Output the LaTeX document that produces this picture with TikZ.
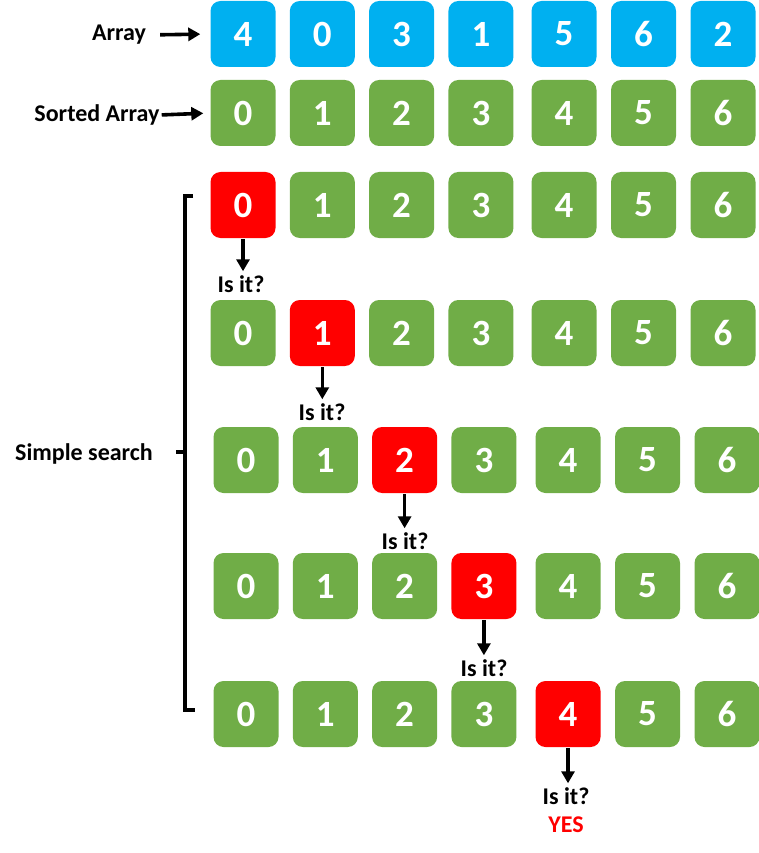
\documentclass[tikz,border=0pt]{standalone}
\usepackage{fontspec}
\setmainfont{Carlito}
\usetikzlibrary{arrows.meta}
\definecolor{cblue}{HTML}{00B0F0}
\definecolor{cgreen}{HTML}{70AD47}
\definecolor{cred}{HTML}{FF0000}
\tikzset{
  cell/.style={minimum width=65pt,minimum height=66pt,rounded corners=10pt,inner sep=0pt,
    text=white,font=\fontsize{37}{37}\selectfont\bfseries},
  bcell/.style={cell,fill=cblue},
  gcell/.style={cell,fill=cgreen},
  rcell/.style={cell,fill=cred},
  lab/.style={inner sep=0pt,font=\fontsize{24}{24}\selectfont\bfseries},
  arr/.style={line width=3.6pt,-{Triangle[length=12pt,width=13pt]}},
  brk/.style={line width=3.6pt}
}
\begin{document}
\begin{tikzpicture}[x=1pt,y=-1pt]
\useasboundingbox (0,0) rectangle (759,853);
% row 1
\foreach \v [count=\i] in {4,0,3,1,5,6,2}{
  \pgfmathsetmacro{\xx}{\i<5 ? 243+(\i-1)*79.3 : 564+(\i-5)*79.5}
  \node[bcell] (a\i) at (\xx,34) {\v};
}
% row 2..4 (same x)
\foreach \r/\y/\red in {2/113/0,3/205/1,4/333/2}{
  \foreach \v [count=\i] in {0,1,2,3,4,5,6}{
    \pgfmathsetmacro{\xx}{\i<5 ? 243+(\i-1)*79.3 : 564+(\i-5)*79.5}
    \ifnum\i=\red\relax
      \node[rcell] (r\r c\i) at (\xx,\y) {\v};
    \else
      \node[gcell] (r\r c\i) at (\xx,\y) {\v};
    \fi
  }
}
% rows 5..7
\foreach \r/\y/\red in {5/460/3,6/586/4,7/714/5}{
  \foreach \v [count=\i] in {0,1,2,3,4,5,6}{
    \pgfmathsetmacro{\xx}{\i<5 ? 246+(\i-1)*79.3 : 568+(\i-5)*79.5}
    \ifnum\i=\red\relax
      \node[rcell] (r\r c\i) at (\xx,\y) {\v};
    \else
      \node[gcell] (r\r c\i) at (\xx,\y) {\v};
    \fi
  }
}
% left labels
\node[lab] (lArr) at (119,35) {Array};
\node[lab] (lSort) at (97,115) {Sorted Array};
\draw[arr,shorten <=14pt,shorten >=10pt] (lArr.east) -- (a1.west);
\draw[arr,shorten <=2pt,shorten >=7pt] (lSort.east) -- (r2c1.west);
% questions
\node[lab] (q3) at (241,284) {Is it?};
\node[lab] (q4) at (322,412) {Is it?};
\node[lab] (q5) at (405,541) {Is it?};
\node[lab] (q6) at (484,668) {Is it?};
\node[lab] (q7) at (566,796) {Is it?};
\node[lab,text=cred] (yes) at (566,825) {YES};
\draw[arr,shorten <=1pt,shorten >=4pt] (r3c1.south) -- (r3c1.south |- q3.north);
\draw[arr,shorten <=1pt,shorten >=4pt] (r4c2.south) -- (r4c2.south |- q4.north);
\draw[arr,shorten <=1pt,shorten >=4pt] (r5c3.south) -- (r5c3.south |- q5.north);
\draw[arr,shorten <=1pt,shorten >=4pt] (r6c4.south) -- (r6c4.south |- q6.north);
\draw[arr,shorten <=1pt,shorten >=4pt] (r7c5.south) -- (r7c5.south |- q7.north);
% bracket
\coordinate (bt) at (185,196);
\coordinate (bb) at (185,710);
\coordinate (bm) at (185,452);
\draw[brk] (193,196) -- (bt) -- (bb) -- (195,710);
\draw[brk] (176,452) -- (bm);
\node[lab] (ss) at (84,454) {Simple search};
\end{tikzpicture}
\end{document}
